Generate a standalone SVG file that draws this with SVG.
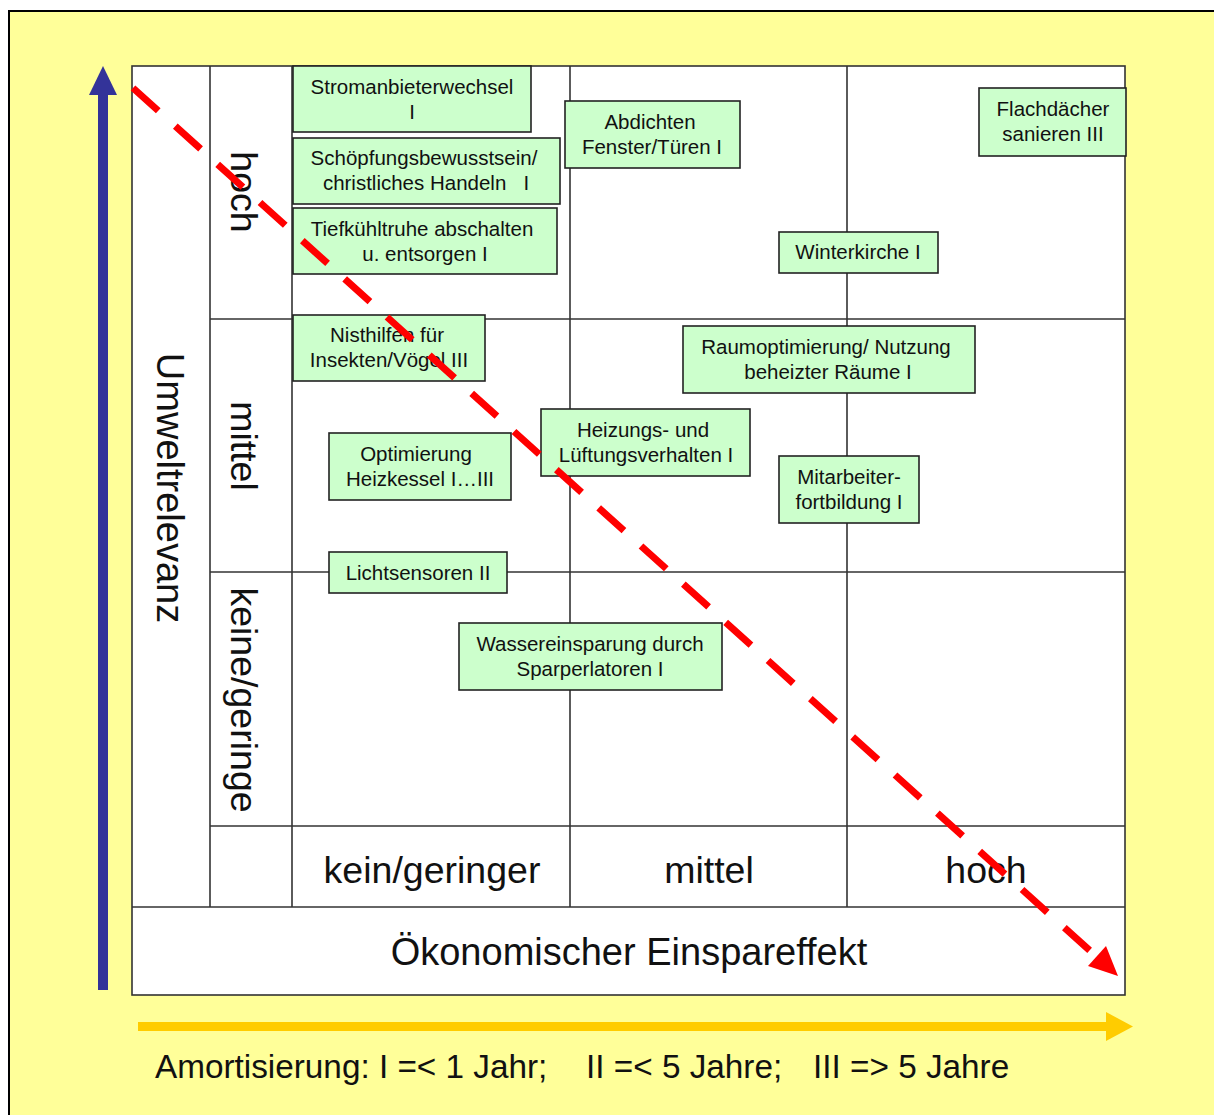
<svg xmlns="http://www.w3.org/2000/svg" width="1214" height="1115" viewBox="0 0 1214 1115">
<style>
.grid{stroke:#333;stroke-width:1.6;fill:none}
.box{fill:#ccffcc;stroke:#222;stroke-width:1.6}
.bt{font-family:"Liberation Sans",Arial,sans-serif;font-size:20.5px;text-anchor:middle;fill:#111;white-space:pre}
.ax{font-family:"Liberation Sans",Arial,sans-serif;font-size:37.5px;text-anchor:middle;fill:#111}
.leg{font-family:"Liberation Sans",Arial,sans-serif;font-size:33.3px;fill:#111;white-space:pre}
</style>
<rect x="0" y="0" width="1214" height="1115" fill="#ffffff"/>
<rect x="9" y="11" width="1215" height="1115" fill="#ffff99" stroke="#000" stroke-width="2"/>

<g id="table">
<rect x="132" y="66" width="993" height="929" fill="#ffffff"/>
<rect x="132" y="66" width="993" height="929" class="grid"/>
<line class="grid" x1="210" y1="66" x2="210" y2="907"/>
<line class="grid" x1="292" y1="66" x2="292" y2="907"/>
<line class="grid" x1="570" y1="66" x2="570" y2="907"/>
<line class="grid" x1="847" y1="66" x2="847" y2="907"/>
<line class="grid" x1="210" y1="319" x2="1125" y2="319"/>
<line class="grid" x1="210" y1="572" x2="1125" y2="572"/>
<line class="grid" x1="210" y1="826" x2="1125" y2="826"/>
<line class="grid" x1="132" y1="907" x2="1125" y2="907"/>
<text class="ax" style="font-size:38px" transform="translate(157,488) rotate(90)">Umweltrelevanz</text>
<text class="ax" transform="translate(231,192) rotate(90)">hoch</text>
<text class="ax" transform="translate(231,446) rotate(90)">mittel</text>
<text class="ax" transform="translate(231,700) rotate(90)">keine/geringe</text>
<text class="ax" x="432" y="883">kein/geringer</text>
<text class="ax" x="709" y="883">mittel</text>
<text class="ax" x="986" y="883">hoch</text>
<text class="ax" style="font-size:38px" x="629" y="965">Ökonomischer Einspareffekt</text>
</g>

<g id="axis-arrows">
<rect x="98" y="94" width="10" height="896" fill="#333399"/>
<polygon points="89,95 103,66 117,95" fill="#333399"/>
<rect x="138" y="1022" width="970" height="9" fill="#ffcc00"/>
<polygon points="1106,1012 1133,1026.5 1106,1041" fill="#ffcc00"/>
</g>

<g id="n1"><rect class="box" x="293" y="66" width="238" height="66"/><text class="bt" x="412" y="94">Stromanbieterwechsel</text><text class="bt" x="412" y="119">I</text></g>
<g id="n2"><rect class="box" x="293" y="138" width="267" height="66"/><text class="bt" x="424" y="165">Schöpfungsbewusstsein/</text><text class="bt" x="426" y="190">christliches Handeln   I</text></g>
<g id="n3"><rect class="box" x="293" y="208" width="264" height="66"/><text class="bt" x="422" y="236">Tiefkühltruhe abschalten</text><text class="bt" x="425" y="261">u. entsorgen I</text></g>
<g id="n4"><rect class="box" x="565" y="101" width="175" height="67"/><text class="bt" x="650" y="129">Abdichten</text><text class="bt" x="652" y="154">Fenster/Türen I</text></g>
<g id="n5"><rect class="box" x="979" y="88" width="147" height="68"/><text class="bt" x="1053" y="116">Flachdächer</text><text class="bt" x="1053" y="141">sanieren III</text></g>
<g id="n6"><rect class="box" x="779" y="232" width="159" height="41"/><text class="bt" x="858" y="259">Winterkirche I</text></g>
<g id="n7"><rect class="box" x="293" y="315" width="192" height="66"/><text class="bt" x="387" y="342">Nisthilfen für</text><text class="bt" x="389" y="367">Insekten/Vögel III</text></g>
<g id="n8"><rect class="box" x="683" y="326" width="292" height="67"/><text class="bt" x="826" y="354">Raumoptimierung/ Nutzung</text><text class="bt" x="828" y="379">beheizter Räume I</text></g>
<g id="n9"><rect class="box" x="329" y="433" width="182" height="67"/><text class="bt" x="416" y="461">Optimierung</text><text class="bt" x="420" y="486">Heizkessel I…III</text></g>
<g id="n10"><rect class="box" x="541" y="409" width="209" height="67"/><text class="bt" x="643" y="437">Heizungs- und</text><text class="bt" x="646" y="462">Lüftungsverhalten I</text></g>
<g id="n11"><rect class="box" x="779" y="456" width="140" height="67"/><text class="bt" x="849" y="484">Mitarbeiter-</text><text class="bt" x="849" y="509">fortbildung I</text></g>
<g id="n12"><rect class="box" x="329" y="552" width="178" height="41"/><text class="bt" x="418" y="580">Lichtsensoren II</text></g>
<g id="n13"><rect class="box" x="459" y="623" width="263" height="67"/><text class="bt" x="590" y="651">Wassereinsparung durch</text><text class="bt" x="590" y="676">Sparperlatoren I</text></g>

<g id="connectors">
<line x1="133" y1="88" x2="1098" y2="958" stroke="#ff0000" stroke-width="7" stroke-dasharray="34 23"/>
<polygon points="1118,976 1088,966 1106,946" fill="#ff0000"/>
</g>

<g id="legend">
<text class="leg" x="155" y="1078">Amortisierung: I =&lt; 1 Jahr;</text>
<text class="leg" x="586" y="1078">II =&lt; 5 Jahre;</text>
<text class="leg" x="813" y="1078">III =&gt; 5 Jahre</text>
</g>
</svg>
